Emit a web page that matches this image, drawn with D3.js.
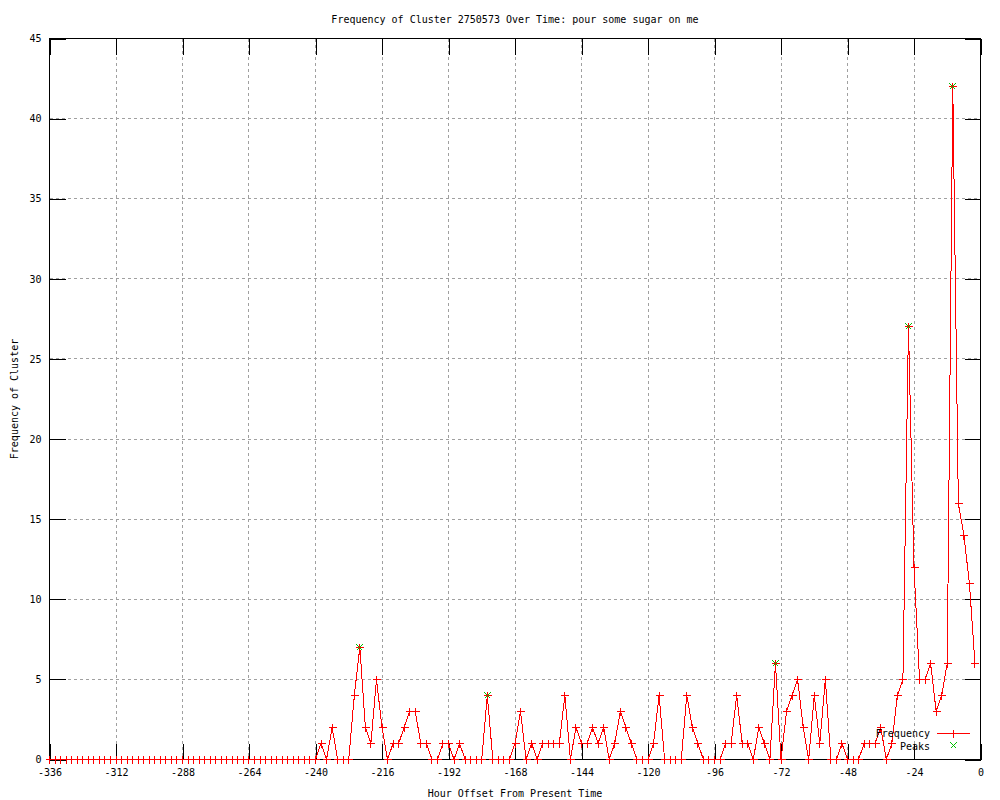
<!DOCTYPE html>
<html>
<head>
<meta charset="utf-8">
<script src="https://cdn.jsdelivr.net/npm/d3@7"></script>
<style>
  body { margin: 0; background: #fff; }
  svg { display: block; font-family: "DejaVu Sans Mono", monospace; font-size: 10px; }
</style>
</head>
<body>
<div id="chart"></div>
<script>
// hour offsets (x) and cluster frequency (y)
const hours = [
  -336, -334, -332, -330, -328, -326, -324, -322, -320, -318, -316, -314,
  -312, -310, -308, -306, -304, -302, -300, -298, -296, -294, -292, -290,
  -288, -286, -284, -282, -280, -278, -276, -274, -272, -270, -268, -266,
  -264, -262, -260, -258, -256, -254, -252, -250, -248, -246, -244, -242,
  -240, -238, -236, -234, -232, -230, -228, -226, -224, -222,
  -220, -218, -216, -214, -212, -210, -208, -206, -204, -202,
  -200, -198, -196, -194, -192, -190, -188, -186, -184, -182,
  -180, -178, -176, -174, -172, -170, -168, -166, -164, -162,
  -160, -158, -156, -154, -152, -150, -148, -146, -144, -142,
  -140, -138, -136, -134, -132, -130, -128, -126, -124, -122,
  -120, -118, -116, -114, -112, -110, -108, -106, -104, -102,
  -100, -98, -96, -94, -92, -90, -88, -86, -84, -82,
  -80, -78, -76, -74, -72, -70, -68, -66, -64, -62,
  -60, -58, -56, -54, -52, -50, -48, -46, -44, -42,
  -40, -38, -36, -34, -32, -30, -28, -26, -24, -22,
  -20, -18, -16, -14, -12, -10, -8, -6, -4, -2
];
const frequency = [
  0, 0, 0, 0, 0, 0, 0, 0, 0, 0, 0, 0,
  0, 0, 0, 0, 0, 0, 0, 0, 0, 0, 0, 0,
  0, 0, 0, 0, 0, 0, 0, 0, 0, 0, 0, 0,
  0, 0, 0, 0, 0, 0, 0, 0, 0, 0, 0, 0,
  0, 1, 0, 2, 0, 0, 0, 4, 7, 2,
  1, 5, 2, 0, 1, 1, 2, 3, 3, 1,
  1, 0, 0, 1, 1, 0, 1, 0, 0, 0,
  0, 4, 0, 0, 0, 0, 1, 3, 0, 1,
  0, 1, 1, 1, 1, 4, 0, 2, 1, 1,
  2, 1, 2, 0, 1, 3, 2, 1, 0, 0,
  0, 1, 4, 0, 0, 0, 0, 4, 2, 1,
  0, 0, 0, 0, 1, 1, 4, 1, 1, 0,
  2, 1, 0, 6, 0, 3, 4, 5, 2, 0,
  4, 1, 5, 0, 0, 1, 0, 0, 0, 1,
  1, 1, 2, 0, 1, 4, 5, 27, 12, 5,
  5, 6, 3, 4, 6, 42, 16, 14, 11, 6
];
const peakHours = [-224, -178, -74, -26, -10];
const peakValues = [7, 4, 6, 27, 42];

const xTicks = [-336, -312, -288, -264, -240, -216, -192, -168, -144, -120, -96, -72, -48, -24, 0];
const yTicks = [0, 5, 10, 15, 20, 25, 30, 35, 40, 45];

const titleText = "Frequency of Cluster 2750573 Over Time: pour some sugar on me";
const xLabel = "Hour Offset From Present Time";
const yLabel = "Frequency of Cluster";

const width = 1000, height = 800;
const mLeft = 49.5, mRight = 980.5, mTop = 38.5, mBottom = 759.5;
const tickLen = 16;

const x = d3.scaleLinear().domain([-336, 0]).range([mLeft, mRight]);
const y = d3.scaleLinear().domain([0, 45]).range([mBottom, mTop]);
// snap a coordinate to the pixel centre so 1px marks stay sharp
const px = v => Math.round(v - 0.5) + 0.5;

const svg = d3.select("#chart").append("svg")
  .attr("width", width)
  .attr("height", height);

// grid
const grid = svg.append("g")
  .attr("stroke", "#a0a0a0")
  .attr("stroke-dasharray", "3,3")
  .attr("shape-rendering", "crispEdges");
grid.selectAll("line.gx").data(xTicks).join("line")
  .attr("class", "gx")
  .attr("x1", d => px(x(d))).attr("x2", d => px(x(d)))
  .attr("y1", mTop).attr("y2", mBottom);
grid.selectAll("line.gy").data(yTicks).join("line")
  .attr("class", "gy")
  .attr("x1", mLeft).attr("x2", mRight)
  .attr("y1", d => px(y(d))).attr("y2", d => px(y(d)));

// axes, ticks pointing inward
const xAxis = svg.append("g")
  .attr("transform", `translate(0,${mBottom})`)
  .call(d3.axisBottom(x).tickValues(xTicks).tickFormat(d => String(d))
    .tickSizeInner(-tickLen).tickSizeOuter(0).tickPadding(9));
const yAxis = svg.append("g")
  .attr("transform", `translate(${mLeft},0)`)
  .call(d3.axisLeft(y).tickValues(yTicks).tickFormat(d => String(d))
    .tickSizeInner(-tickLen).tickSizeOuter(0).tickPadding(8));

// mirrored ticks on top and right
const xTop = svg.append("g")
  .attr("transform", `translate(0,${mTop})`)
  .call(d3.axisTop(x).tickValues(xTicks).tickFormat("")
    .tickSizeInner(-tickLen).tickSizeOuter(0));
const yRight = svg.append("g")
  .attr("transform", `translate(${mRight},0)`)
  .call(d3.axisRight(y).tickValues(yTicks).tickFormat("")
    .tickSizeInner(-tickLen).tickSizeOuter(0));

[xAxis, yAxis, xTop, yRight].forEach(g => {
  g.select(".domain").remove();
  g.attr("font-family", null).attr("font-size", null);
  g.selectAll("line").attr("stroke", "#000").attr("shape-rendering", "crispEdges");
  g.selectAll("text").attr("fill", "#000");
});

// border
svg.append("rect")
  .attr("x", mLeft).attr("y", mTop)
  .attr("width", mRight - mLeft).attr("height", mBottom - mTop)
  .attr("fill", "none").attr("stroke", "#000")
  .attr("shape-rendering", "crispEdges");

// frequency line
const line = d3.line()
  .x((d, i) => x(hours[i]))
  .y(d => y(d));

svg.append("path")
  .datum(frequency)
  .attr("d", line)
  .attr("fill", "none")
  .attr("stroke", "#ff0000")
  .attr("stroke-width", 1)
  .attr("shape-rendering", "crispEdges");

const plusPath = s => `M${-s},0H${s}M0,${-s}V${s}`;
const crossPath = s => `M${-s},${-s}L${s},${s}M${-s},${s}L${s},${-s}`;

svg.append("g")
  .selectAll("path")
  .data(frequency)
  .join("path")
  .attr("transform", (d, i) => `translate(${px(x(hours[i]))},${px(y(d))})`)
  .attr("d", plusPath(4))
  .attr("stroke", "#ff0000")
  .attr("fill", "none")
  .attr("shape-rendering", "crispEdges");

// peaks
svg.append("g")
  .selectAll("path")
  .data(peakValues)
  .join("path")
  .attr("transform", (d, i) => `translate(${px(x(peakHours[i]))},${px(y(d))})`)
  .attr("d", crossPath(3))
  .attr("stroke", "#00c000")
  .attr("fill", "none")
  .attr("shape-rendering", "crispEdges");

// legend
const legend = svg.append("g");
legend.append("text")
  .attr("x", 930).attr("y", 733).attr("dy", "0.35em")
  .attr("text-anchor", "end").text("Frequency");
legend.append("line")
  .attr("x1", 937).attr("x2", 970).attr("y1", 733.5).attr("y2", 733.5)
  .attr("stroke", "#ff0000").attr("shape-rendering", "crispEdges");
legend.append("path")
  .attr("transform", "translate(953.5,733.5)")
  .attr("d", plusPath(4))
  .attr("stroke", "#ff0000").attr("fill", "none").attr("shape-rendering", "crispEdges");
legend.append("text")
  .attr("x", 930).attr("y", 746).attr("dy", "0.35em")
  .attr("text-anchor", "end").text("Peaks");
legend.append("path")
  .attr("transform", "translate(953.5,745.5)")
  .attr("d", crossPath(3))
  .attr("stroke", "#00c000").attr("fill", "none").attr("shape-rendering", "crispEdges");

// titles
svg.append("text")
  .attr("x", (mLeft + mRight) / 2).attr("y", 19).attr("dy", "0.35em")
  .attr("text-anchor", "middle").text(titleText);
svg.append("text")
  .attr("x", (mLeft + mRight) / 2).attr("y", 793).attr("dy", "0.35em")
  .attr("text-anchor", "middle").text(xLabel);
svg.append("text")
  .attr("transform", `translate(14,${(mTop + mBottom) / 2}) rotate(-90)`)
  .attr("dy", "0.35em")
  .attr("text-anchor", "middle").text(yLabel);
</script>
</body>
</html>
